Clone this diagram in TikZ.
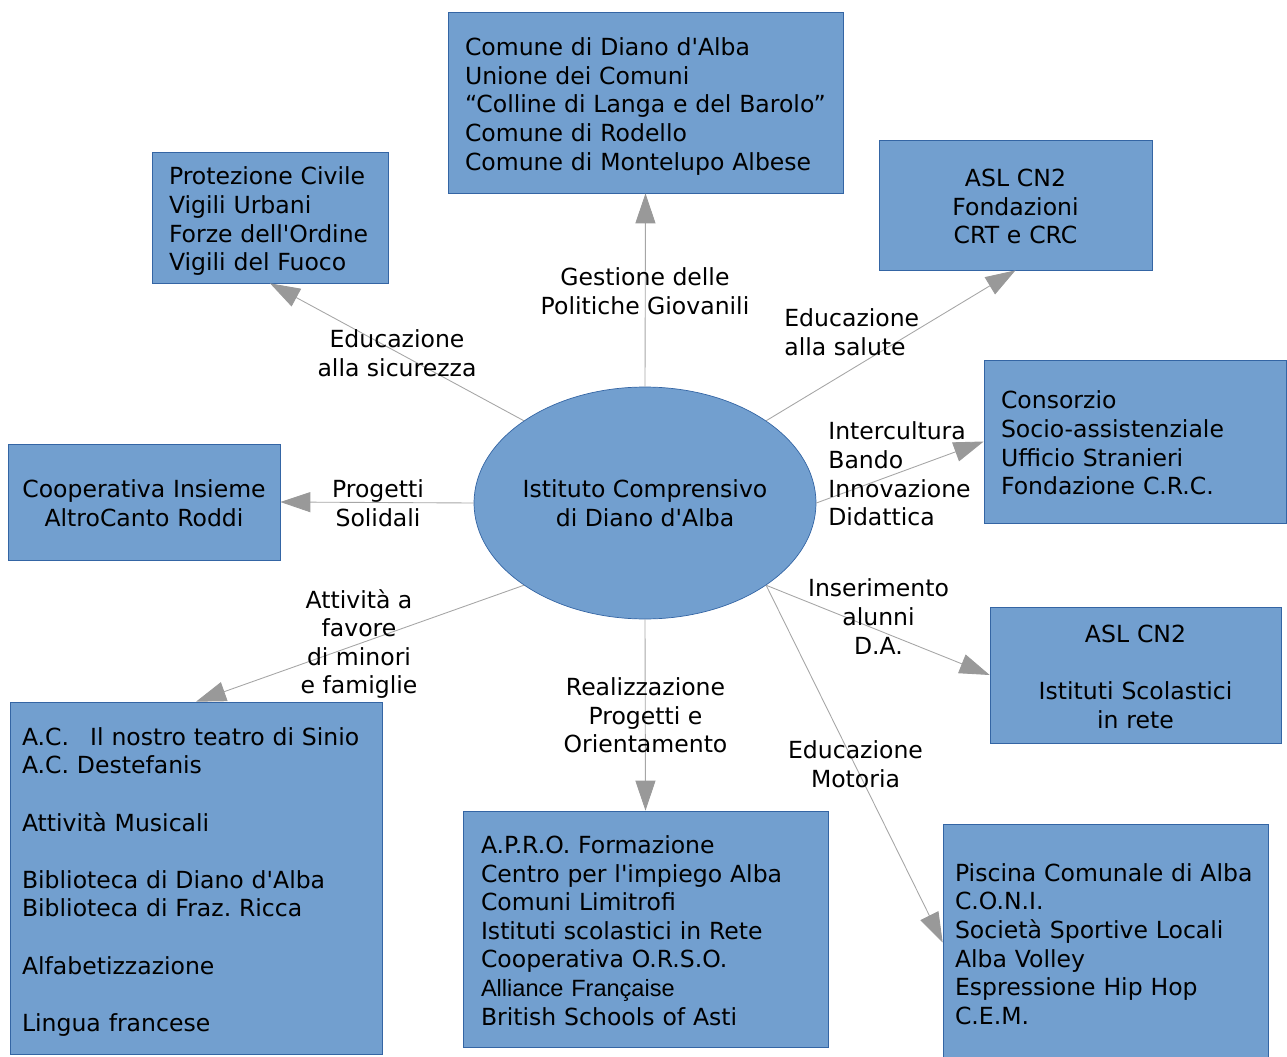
\documentclass[tikz,border=0pt]{standalone}
\usepackage{fontspec}
\setmainfont{DejaVu Sans}[Ligatures=TeXOff]
\newfontfamily\arialfont{Liberation Sans}[Ligatures=TeXOff]
\usetikzlibrary{arrows.meta,shapes.geometric}
\definecolor{box-fill}{HTML}{729FCF}
\definecolor{box-line}{HTML}{3465A4}
\definecolor{link-line}{HTML}{A6A6A6}
\definecolor{link-tip}{HTML}{999999}
\newcommand{\diagfont}{\fontsize{13.4pt}{16.3pt}\selectfont}
\tikzset{
    partner-box/.style = {draw=box-line, fill=box-fill, thin, rectangle, inner xsep=0.34cm, inner ysep=0pt, font=\diagfont,
        execute at begin node={\rule{0pt}{14.9pt}}, execute at end node={\rule[-3.2pt]{0pt}{3.2pt}}},
    center-ellipse/.style = {draw=box-line, fill=box-fill, thin, ellipse, inner sep=0pt, minimum width=6.84cm, minimum height=4.64cm},
    link-arrow/.style = {draw=link-line, line width=0.5pt, -{Triangle[length=0.6cm, width=0.4cm, color=link-tip]}},
    link-label/.style = {inner sep=0pt, align=center, font=\diagfont},
}

\begin{document}
\frenchspacing
\begin{tikzpicture}[x=0.02cm, y=-0.02cm]
\useasboundingbox (0,0) rectangle (1287,1057);

% partner boxes
\node [partner-box, align=left, text width=7.22cm, minimum height=3.62cm] (comune) at (645.5,102.5)
    {Comune di Diano d'Alba\\Unione dei Comuni\\“Colline di Langa e del Barolo”\\Comune di Rodello\\Comune di Montelupo Albese};
\node [partner-box, align=left, text width=4.04cm, minimum height=2.62cm] (protezione) at (270,217.5)
    {Protezione Civile\\Vigili Urbani\\Forze dell'Ordine\\Vigili del Fuoco};
\node [partner-box, align=center, text width=4.78cm, minimum height=2.6cm] (asl) at (1015.5,205)
    {ASL CN2\\Fondazioni\\CRT e CRC};
\node [partner-box, align=left, text width=5.36cm, minimum height=3.26cm] (consorzio) at (1135,441.5)
    {Consorzio\\Socio-assistenziale\\Ufficio Stranieri\\Fondazione C.R.C.};
\node [partner-box, align=center, inner xsep=0.1cm, text width=5.24cm, minimum height=2.32cm] (cooperativa) at (144,502)
    {Cooperativa Insieme\\AltroCanto Roddi};
\node [partner-box, align=center, text width=5.14cm, minimum height=2.72cm] (asl-scuole) at (1135.5,675)
    {ASL CN2\\ \mbox{}\\Istituti Scolastici\\in rete};
\node [partner-box, align=left, inner xsep=0.24cm, text width=6.96cm, minimum height=7.04cm] (associazioni) at (196,878)
    {A.C.\hspace{12pt}Il nostro teatro di Sinio\\A.C. Destefanis\\ \mbox{}\\Attività Musicali\\ \mbox{}\\Biblioteca di Diano d'Alba\\Biblioteca di Fraz. Ricca\\ \mbox{}\\Alfabetizzazione\\ \mbox{}\\Lingua francese};
\node [partner-box, align=left, inner xsep=0.36cm, text width=6.58cm, minimum height=4.72cm] (apro) at (645.5,929)
    {A.P.R.O. Formazione\\Centro per l'impiego Alba\\Comuni Limitrofi\\Istituti scolastici in Rete\\Cooperativa O.R.S.O.\\{\arialfont Alliance Française}\\British Schools of Asti};
\node [partner-box, align=left, inner xsep=0.24cm, text width=6.02cm, minimum height=4.74cm] (sport) at (1105.5,942.5)
    {Piscina Comunale di Alba\\C.O.N.I.\\Società Sportive Locali\\Alba Volley\\Espressione Hip Hop\\C.E.M.};

% school
\node [center-ellipse, label={[link-label]center:{Istituto Comprensivo\\di Diano d'Alba}}] (istituto) at (645,503) {};

% connectors
\draw [link-arrow] (istituto.north) -- (comune.south);
\draw [link-arrow] (istituto.north west) -- (protezione.south);
\draw [link-arrow] (istituto.north east) -- (asl.south);
\draw [link-arrow] (istituto.east) -- (consorzio.west);
\draw [link-arrow] (istituto.west) -- (cooperativa.east);
\draw [link-arrow] (istituto.south west) -- (associazioni.north);
\draw [link-arrow] (istituto.south) -- (apro.north);
\draw [link-arrow] (istituto.south east) -- (asl-scuole.west);
\draw [link-arrow] (istituto.south east) -- (sport.west);

% labels
\node [link-label] (gestione) at (645,291.5) {Gestione delle\\Politiche Giovanili};
\node [link-label] (sicurezza) at (397,353.5) {Educazione\\alla sicurezza};
\node [link-label, align=left, anchor=west] (salute) at (784,332.5) {Educazione\\alla salute};
\node [link-label, align=left, anchor=west] (intercultura) at (828,474) {Intercultura\\Bando\\Innovazione\\Didattica};
\node [link-label] (solidali) at (378,503.5) {Progetti\\Solidali};
\node [link-label] (minori) at (359,644) {Attività a\\favore\\di minori\\e famiglie};
\node [link-label] (orientamento) at (645.5,715.5) {Realizzazione\\Progetti e\\Orientamento};
\node [link-label] (inserimento) at (878.5,616.5) {Inserimento\\alunni\\D.A.};
\node [link-label] (motoria) at (855.5,764.5) {Educazione\\Motoria};
\end{tikzpicture}
\end{document}
